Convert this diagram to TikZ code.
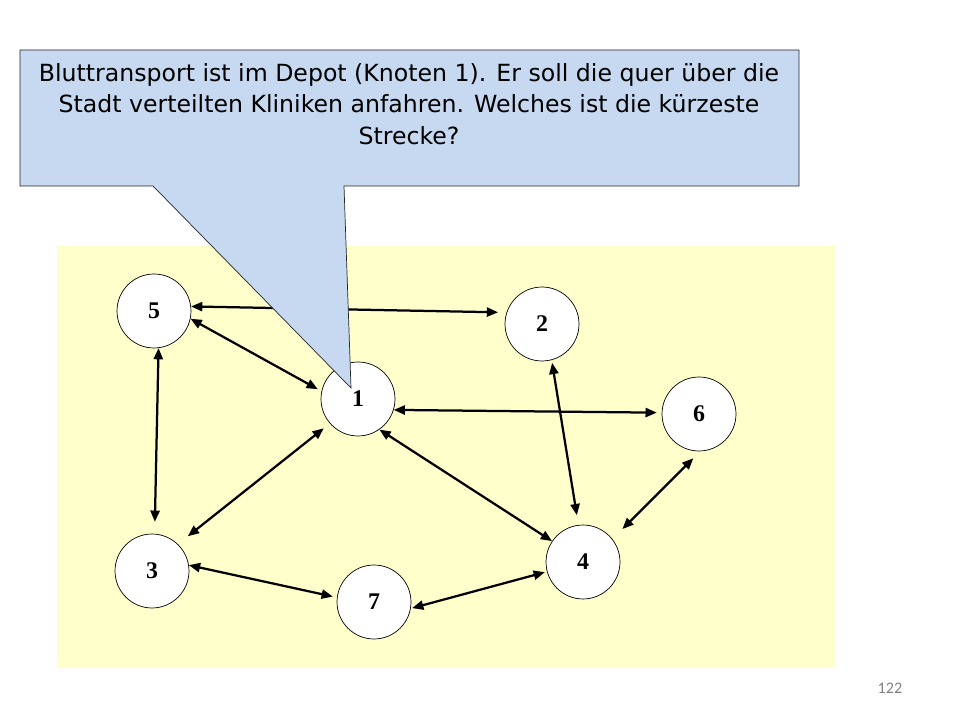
\documentclass[tikz,border=0pt]{standalone}
\usepackage{fontspec}
\usepackage{xcolor}
\usetikzlibrary{arrows.meta}
\newfontfamily\boxfont{DejaVu Sans}
\newfontfamily\numfont{Liberation Serif}
\newfontfamily\pagefont{Carlito}
\definecolor{callblue}{RGB}{198,217,241}
\definecolor{padyellow}{RGB}{255,255,204}

\begin{document}
\begin{tikzpicture}[x=0.025cm,y=-0.025cm,
  knoten/.style={circle,draw,line width=0.5pt,fill=white,minimum size=52.6pt,inner sep=0pt,
    font=\numfont\fontsize{17}{17}\selectfont\bfseries},
  weg/.style={line width=1.6pt,{Triangle[length=8pt,width=6.5pt]}-{Triangle[length=8pt,width=6.5pt]}}]
\useasboundingbox (0,0) rectangle (960,720);
\fill[padyellow] (57,246) rectangle (835,668);
% Knoten
\node[knoten] (n5) at (154,311) {5};
\node[knoten] (n2) at (542,324) {2};
\node[knoten] (n1) at (358,399) {1};
\node[knoten] (n6) at (699,414) {6};
\node[knoten] (n3) at (152,571) {3};
\node[knoten] (n4) at (583,562) {4};
\node[knoten] (n7) at (374,602) {7};
% Wege
\draw[weg,shorten >=6pt] (n5.7.7) -- (n2.162);
\draw[weg,shorten >=3pt] (n5.-12.9) -- (n1.168.7);
\draw[weg,shorten >=8.5pt] (n5.-83.7) -- (n3.86.5);
\draw[weg,shorten <=5.5pt,shorten >=9pt] (n1.-139.5) -- (n3.46.6);
\draw[weg] (n1.-55.4) -- (n4.146.8);
\draw[weg,shorten >=3.5pt] (n1.-17.4) -- (n6.178.6);
\draw[weg,shorten <=2pt,shorten >=7pt] (n2.-75.6) -- (n4.97.3);
\draw[weg,shorten <=7pt,shorten >=10pt] (n6.-88.8) -- (n4.38.7);
\draw[weg,shorten >=3pt] (n3.9.2) -- (n7.173);
\draw[weg,shorten <=1pt,shorten >=1.5pt] (n7.-10.4) -- (n4.-165);
% Sprechblase
\filldraw[fill=callblue,draw=black!85,line width=0.5pt] (20,50) -- (799,50) -- (799,186) -- (344,186)
  -- (351,388) -- (153,186) -- (20,186) -- cycle;
\node[font=\boxfont\fontsize{16.8}{22.4}\selectfont,align=center] (frage) at (409,104)
  {Bluttransport ist im Depot (Knoten 1). Er soll die quer über die\\
   Stadt verteilten Kliniken anfahren. Welches ist die kürzeste\\
   Strecke?};
\node[font=\pagefont\fontsize{11.5}{11.5}\selectfont,text=gray] (seite) at (890,688) {122};
\end{tikzpicture}
\end{document}
